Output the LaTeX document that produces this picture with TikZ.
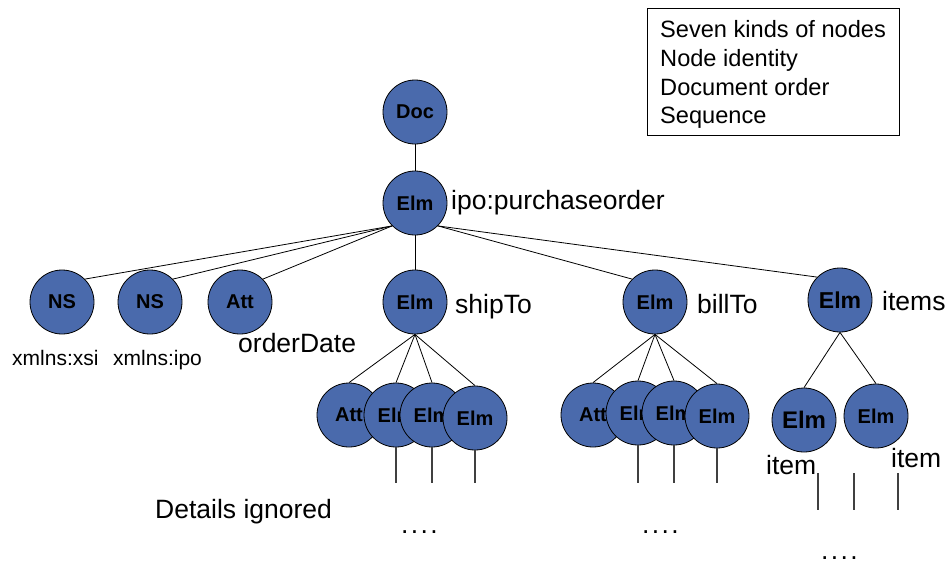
\documentclass[tikz,border=0pt]{standalone}
\usepackage{fontspec}
\setmainfont{Liberation Sans}
\usetikzlibrary{backgrounds}
\definecolor{nodeblue}{RGB}{74,106,172}
\newcommand\fourdots{.\kern2.4pt.\kern2.4pt.\kern2.4pt.}
\begin{document}
\begin{tikzpicture}[x=1pt,y=-1pt,
  nd/.style={circle,draw=black,line width=0.8pt,fill=nodeblue,minimum size=64pt,inner sep=0pt,
    font=\fontsize{20}{20}\selectfont\bfseries},
  lbl/.style={anchor=base west,inner sep=0pt,font=\fontsize{26.5}{26.5}\selectfont},
  sm/.style={anchor=base west,inner sep=0pt,font=\fontsize{21}{21}\selectfont},
  boxtxt/.style={anchor=base west,inner sep=0pt,font=\fontsize{23.6}{23.6}\selectfont},
  edge/.style={draw=black,line width=0.8pt},
  stub/.style={draw=black!75,line width=1.2pt}]
\useasboundingbox (0,0) rectangle (952,566);
% legend box
\node[draw=black,line width=0.8pt,anchor=north west,minimum width=252pt,minimum height=127pt,inner sep=0pt] (box) at (647,8) {};
\node[boxtxt] (t1) at (660,37) {Seven kinds of nodes};
\node[boxtxt] (t2) at (660,66) {Node identity};
\node[boxtxt] (t3) at (660,95) {Document order};
\node[boxtxt] (t4) at (660,123) {Sequence};
% main nodes
\node[nd] (doc) at (415,112) {Doc};
\node[nd] (po) at (415,203) {Elm};
\node[nd] (ns1) at (62,302) {NS};
\node[nd] (ns2) at (150,302) {NS};
\node[nd] (att) at (240,302) {Att};
\node[nd] (ship) at (415,302) {Elm};
\node[nd] (bill) at (655,302) {Elm};
\node[nd,font=\fontsize{23}{23}\selectfont\bfseries] (items) at (840,300) {Elm};
% shipTo children
\node[nd] (sa) at (349,415) {Att};
\node[nd] (s1) at (396,415) {Elm};
\node[nd] (s2) at (432,415) {Elm};
\node[nd] (s3) at (475,418) {Elm};
% billTo children
\node[nd] (ba) at (593,415) {Att};
\node[nd] (b1) at (638,413) {Elm};
\node[nd] (b2) at (674,413) {Elm};
\node[nd] (b3) at (717,416) {Elm};
% items children
\node[nd,font=\fontsize{24}{24}\selectfont\bfseries] (i1) at (804,420) {Elm};
\node[nd] (i2) at (876,416) {Elm};
% labels
\node[lbl] (lpo) at (451,209) {ipo:purchaseorder};
\node[lbl] (lship) at (455,313) {shipTo};
\node[lbl] (lbill) at (697,313) {billTo};
\node[lbl] (litems) at (882,310) {items};
\node[lbl] (lod) at (238,352) {orderDate};
\node[sm] (lx1) at (12,365) {xmlns:xsi};
\node[sm] (lx2) at (113,365) {xmlns:ipo};
\node[lbl] (li1) at (766,474) {item};
\node[lbl] (li2) at (891,467) {item};
\node[lbl] (det) at (155,518) {Details ignored};
\node[lbl] (d1) at (401,533) {\fourdots};
\node[lbl] (d2) at (642,533) {\fourdots};
\node[lbl] (d3) at (821,559) {\fourdots};
% connectors
\begin{scope}[on background layer]
\draw[edge] (doc.south) -- (po.north);
\draw[edge] (po.south west) -- (ns1.north east);
\draw[edge] (po.south west) -- (ns2.north east);
\draw[edge] (po.south west) -- (att.north east);
\draw[edge] (po.south) -- (ship.north);
\draw[edge] (po.south east) -- (bill.north west);
\draw[edge] (po.south east) -- (items.north west);
\foreach \c in {sa,s1,s2,s3} \draw[edge] (ship.south) -- (\c.north);
\foreach \c in {ba,b1,b2,b3} \draw[edge] (bill.south) -- (\c.north);
\foreach \c in {i1,i2} \draw[edge] (items.south) -- (\c.north);
\end{scope}
% stubs
\coordinate (bot) at (0,483);
\foreach \c in {s1,s2,s3,b1,b2,b3} \draw[stub] (\c.south) -- (\c.south |- bot);
\coordinate (ia) at (818,473); \coordinate (ib) at (818,510);
\coordinate (ic) at (854,473); \coordinate (id) at (854,510);
\coordinate (ie) at (898,473); \coordinate (if) at (898,510);
\draw[stub] (ia) -- (ib);
\draw[stub] (ic) -- (id);
\draw[stub] (ie) -- (if);
\end{tikzpicture}
\end{document}
